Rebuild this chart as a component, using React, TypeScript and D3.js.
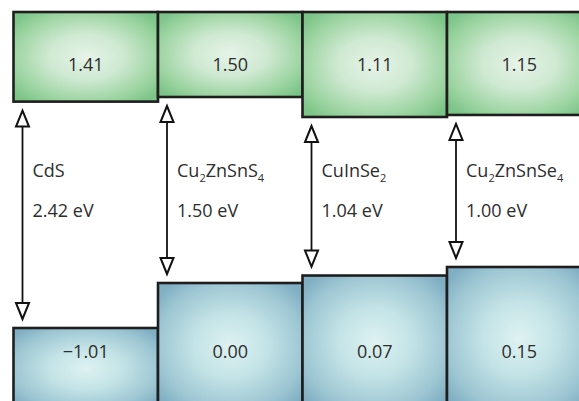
import React, { useEffect, useRef } from "react";
import * as d3 from "d3";

// Band alignment of absorber / buffer materials (energies in eV)
const materials = ["CdS", "Cu2ZnSnS4", "CuInSe2", "Cu2ZnSnSe4"];
const bandGapEV = [2.42, 1.5, 1.04, 1.0];
const valenceBandEV = [-1.01, 0.0, 0.07, 0.15];
const conductionBandEV = [1.41, 1.5, 1.11, 1.15];

const W = 579;
const H = 401;

export default function App() {
  const ref = useRef<SVGSVGElement>(null);

  useEffect(() => {
    const svg = d3.select(ref.current);
    svg.selectAll("*").remove();

    const font = "'Open Sans', 'Noto Sans', sans-serif";
    const ink = "#2d2d2d";
    const edge = "#1e1e1e";

    const x = d3.scaleBand<string>().domain(materials).range([13.5, 591.5]).padding(0);

    // Schematic energy axis: the gap region is compressed, each band region has its own segment
    const [vbMin, vbMax] = d3.extent(valenceBandEV) as [number, number];
    const [cbMin, cbMax] = d3.extent(conductionBandEV) as [number, number];
    const y = d3
      .scaleLinear()
      .domain([vbMin, 0, vbMax, cbMin, cbMax])
      .range([328, 283, 267, 117, 97]);

    const defs = svg.append("defs");
    const grad = (id: string, stops: [number, string][]) => {
      const g = defs
        .append("radialGradient")
        .attr("id", id)
        .attr("cx", "50%")
        .attr("cy", "50%")
        .attr("r", "64%");
      stops.forEach(([o, c]) => g.append("stop").attr("offset", o).attr("stop-color", c));
    };
    grad("cbFill", [
      [0, "#e6f4e8"],
      [0.4, "#cfe9d2"],
      [0.8, "#9ad39f"],
      [1, "#7cc488"],
    ]);
    grad("vbFill", [
      [0, "#def2f1"],
      [0.4, "#c3e3e6"],
      [0.8, "#9cc5d2"],
      [1, "#80aec3"],
    ]);

    const rows = materials.map((m, i) => ({
      m,
      gap: bandGapEV[i],
      vb: valenceBandEV[i],
      cb: conductionBandEV[i],
    }));

    const bandTop = 12;
    const bandBottom = H + 8;
    const fmt = d3.format(".2f");

    // Conduction band blocks
    const cbG = svg.append("g");
    rows.forEach((d) => {
      cbG
        .append("rect")
        .attr("x", x(d.m)!)
        .attr("y", bandTop)
        .attr("width", x.bandwidth())
        .attr("height", y(d.cb) - bandTop)
        .attr("fill", "url(#cbFill)")
        .attr("stroke", edge)
        .attr("stroke-width", 2.6);
    });
    rows.forEach((d) => {
      cbG
        .append("text")
        .attr("x", x(d.m)! + x.bandwidth() / 2)
        .attr("y", 71)
        .attr("text-anchor", "middle")
        .attr("font-family", font)
        .attr("font-size", 18)
        .attr("fill", ink)
        .text(fmt(d.cb));
    });

    // Valence band blocks
    const vbG = svg.append("g");
    rows.forEach((d) => {
      vbG
        .append("rect")
        .attr("x", x(d.m)!)
        .attr("y", y(d.vb))
        .attr("width", x.bandwidth())
        .attr("height", bandBottom - y(d.vb))
        .attr("fill", "url(#vbFill)")
        .attr("stroke", edge)
        .attr("stroke-width", 2.6);
    });
    rows.forEach((d) => {
      vbG
        .append("text")
        .attr("x", x(d.m)! + x.bandwidth() / 2)
        .attr("y", 358)
        .attr("text-anchor", "middle")
        .attr("font-family", font)
        .attr("font-size", 18)
        .attr("fill", ink)
        .text(fmt(d.vb));
    });

    // Double-headed gap arrows with open heads
    const arrowG = svg.append("g");
    const off = 9;
    const gapPad = 9;
    const headH = 16;
    const headW = 6.5;
    rows.forEach((d) => {
      const ax = x(d.m)! + off;
      const t = y(d.cb) + gapPad;
      const b = y(d.vb) - gapPad;
      arrowG
        .append("line")
        .attr("x1", ax)
        .attr("x2", ax)
        .attr("y1", t + headH)
        .attr("y2", b - headH)
        .attr("stroke", "#111")
        .attr("stroke-width", 1.8);
      arrowG
        .append("path")
        .attr("d", `M${ax},${t}L${ax - headW},${t + headH}L${ax + headW},${t + headH}Z`)
        .attr("fill", "#fff")
        .attr("stroke", "#111")
        .attr("stroke-width", 2)
        .attr("stroke-linejoin", "miter");
      arrowG
        .append("path")
        .attr("d", `M${ax},${b}L${ax - headW},${b - headH}L${ax + headW},${b - headH}Z`)
        .attr("fill", "#fff")
        .attr("stroke", "#111")
        .attr("stroke-width", 2)
        .attr("stroke-linejoin", "miter");

      // Material name with numeric subscripts
      const name = arrowG
        .append("text")
        .attr("x", ax + 10)
        .attr("y", 177)
        .attr("font-family", font)
        .attr("font-size", 18)
        .attr("fill", ink);
      const parts = d.m.match(/[A-Za-z]+|\d+/g) || [];
      let sub = false;
      parts.forEach((p) => {
        const isNum = /^\d+$/.test(p);
        const ts = name.append("tspan").text(p);
        if (isNum && !sub) {
          ts.attr("font-size", 11).attr("dy", 5);
          sub = true;
        } else if (!isNum && sub) {
          ts.attr("dy", -5);
          sub = false;
        } else if (isNum) {
          ts.attr("font-size", 11);
        }
      });

      arrowG
        .append("text")
        .attr("x", ax + 10)
        .attr("y", 217)
        .attr("font-family", font)
        .attr("font-size", 18)
        .attr("fill", ink)
        .text(`${fmt(d.gap)} eV`);
    });
  }, []);

  return (
    <svg
      ref={ref}
      width={W}
      height={H}
      style={{ position: "absolute", left: 0, top: 0, display: "block", background: "#fff" }}
    />
  );
}
